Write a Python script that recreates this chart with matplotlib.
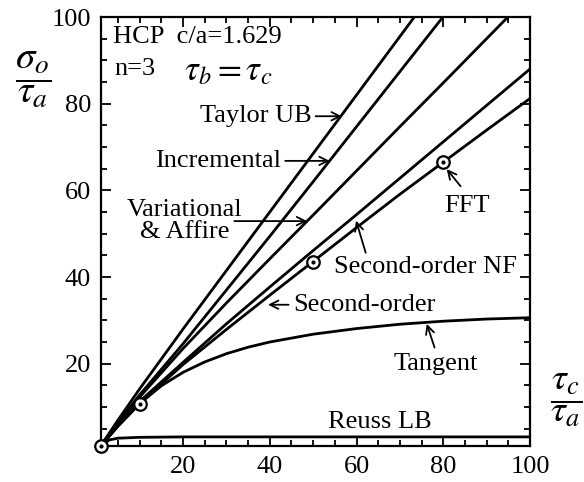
import matplotlib
matplotlib.use("Agg")
import matplotlib.pyplot as plt
from matplotlib.ticker import FixedLocator

plt.rcParams['font.family'] = ['Liberation Serif', 'DejaVu Serif']
plt.rcParams['mathtext.fontset'] = 'stix'

# normalized strength ratio tau_c / tau_a
x_taylor = [1, 5, 10, 20, 30, 40, 50, 60, 70, 80]
taylor = [1, 7.0, 14.2, 28.0, 41.5, 55.0, 68.5, 82.0, 95.5, 109.0]

x_incr = [1, 5, 10, 20, 30, 40, 50, 60, 70, 80, 90]
incremental = [1, 6.5, 12.8, 24.6, 37.0, 49.4, 62.0, 74.7, 87.4, 100.1, 112.8]

x_full = [1, 5, 10, 20, 30, 40, 50, 60, 70, 80, 90, 100]
variational = [1, 6.2, 12.3, 23.5, 34.0, 44.2, 54.3, 64.5, 74.7, 84.8, 95.0, 105.2]
second_order_nf = [1, 5.8, 11.3, 20.3, 29.2, 37.7, 46.1, 54.4, 62.8, 71.2, 79.6, 88.0]
second_order = [1, 5.6, 10.8, 19.8, 27.9, 35.8, 43.6, 51.4, 59.1, 66.5, 73.9, 81.2]

x_tangent = [1, 5, 10, 15, 20, 25, 30, 35, 40, 50, 60, 70, 80, 90, 100]
tangent = [1, 5.6, 10.8, 14.9, 18.0, 20.4, 22.3, 23.8, 25.0, 26.8, 28.1, 29.1,
           29.8, 30.3, 30.6]

x_reuss = [1, 3, 5, 10, 20, 100]
reuss = [1, 2.4, 2.8, 3.0, 3.1, 3.1]

x_fft = [1, 10, 50, 80]
fft = [1, 10.8, 43.5, 66.5]

fig = plt.figure(figsize=(5.84, 4.82), dpi=100)
ax = fig.add_axes([0.1724, 0.0747, 0.7351, 0.8900])

lw = 2.0
for xs, ys in [(x_taylor, taylor), (x_incr, incremental), (x_full, variational),
               (x_full, second_order_nf), (x_full, second_order),
               (x_tangent, tangent), (x_reuss, reuss)]:
    ax.plot(xs, ys, color='black', lw=lw, solid_capstyle='butt',
            solid_joinstyle='round')

ax.plot(x_fft, fft, linestyle='none', marker='o', markersize=9,
        markerfacecolor='white', markeredgecolor='black', markeredgewidth=1.6,
        clip_on=False, zorder=5)
ax.plot(x_fft, fft, linestyle='none', marker='o', markersize=2,
        color='black', clip_on=False, zorder=6)

ax.set_xlim(1, 100)
ax.set_ylim(1, 100)
ax.xaxis.set_major_locator(FixedLocator([20, 40, 60, 80, 100]))
ax.yaxis.set_major_locator(FixedLocator([20, 40, 60, 80, 100]))
ax.xaxis.set_minor_locator(FixedLocator(list(range(5, 100, 5))))
ax.yaxis.set_minor_locator(FixedLocator(list(range(5, 100, 5))))
ax.tick_params(which='both', direction='in', top=True, right=True,
               width=1.3, labelsize=19, colors='black')
ax.tick_params(which='major', length=7, pad=7)
ax.tick_params(which='minor', length=4)
for s in ax.spines.values():
    s.set_linewidth(1.6)

fs = 19
ax.text(3.9, 95.3, 'HCP  c/a=1.629', fontsize=fs, ha='left', va='center')
ax.text(4.2, 88.0, 'n=3', fontsize=fs, ha='left', va='center')
ax.text(20.2, 87.3, r'$\tau_b = \tau_c$', fontsize=25, ha='left', va='center')

arrow = dict(arrowstyle='->', lw=1.3, color='black', shrinkA=1, shrinkB=0,
             mutation_scale=15)
ax.annotate('Taylor UB', xy=(56.6, 77.1), xytext=(49.6, 77.1), fontsize=fs,
            ha='right', va='center', arrowprops=arrow)
ax.annotate('Incremental', xy=(53.8, 66.8), xytext=(42.6, 66.8), fontsize=fs,
            ha='right', va='center', arrowprops=arrow)
ax.text(20.4, 53.0, 'Variational\n& Affire', fontsize=fs, ha='center',
        va='center', linespacing=1.0)
ax.annotate('', xy=(48.6, 52.9), xytext=(31.5, 52.9), arrowprops=arrow)
ax.text(85.5, 56.4, 'FFT', fontsize=fs, ha='center', va='center')
ax.annotate('', xy=(80.8, 64.9), xytext=(84.2, 60.7), arrowprops=arrow)
ax.text(76.0, 42.3, 'Second-order NF', fontsize=fs, ha='center', va='center')
ax.annotate('', xy=(59.9, 53.0), xytext=(62.2, 45.3), arrowprops=arrow)
ax.annotate('Second-order', xy=(39.6, 33.6), xytext=(45.3, 33.6), fontsize=fs,
            ha='left', va='center', arrowprops=arrow)
ax.text(78.3, 20.0, 'Tangent', fontsize=fs, ha='center', va='center')
ax.annotate('', xy=(76.2, 29.2), xytext=(78.1, 23.4), arrowprops=arrow)
ax.text(65.4, 6.6, 'Reuss LB', fontsize=fs, ha='center', va='center')

fig.text(33 / 584, 1 - 80 / 482, r'$\dfrac{\sigma_o}{\tau_a}$', fontsize=28,
         ha='center', va='center')
fig.text(566 / 584, 1 - 400 / 482, r'$\dfrac{\tau_c}{\tau_a}$', fontsize=27,
         ha='center', va='center')

fig.savefig('out.png', dpi=100)
